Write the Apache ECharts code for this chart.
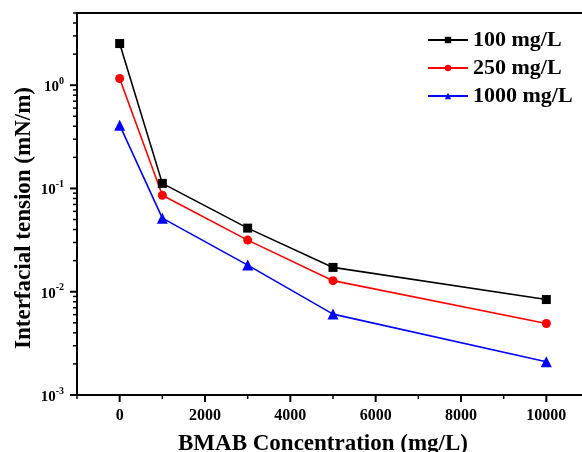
<!DOCTYPE html>
<html><head><meta charset="utf-8">
<script src="https://cdn.jsdelivr.net/npm/echarts@6/dist/echarts.min.js"></script>
<style>html,body{margin:0;padding:0;background:#fff}#c{width:582px;height:452px}</style>
</head><body><div id="c"></div>
<script>
const concentrations = [0, 1000, 3000, 5000, 10000];
const s100 = [2.53, 0.112, 0.0413, 0.0172, 0.0084];
const s250 = [1.16, 0.086, 0.0316, 0.0128, 0.00493];
const s1000 = [0.41, 0.0516, 0.0181, 0.00607, 0.0021];
const seriesNames = ['100 mg/L', '250 mg/L', '1000 mg/L'];
const xMin = -1000, xMax = 11000, yMin = 0.001, yMax = 5;
const xMajorTicks = [0, 2000, 4000, 6000, 8000, 10000];
const xMinorTicks = [-1000, 1000, 3000, 5000, 7000, 9000, 11000];
const yMajorTicks = [0.001, 0.01, 0.1, 1];
const yMinorTicks = [];
[-3, -2, -1, 0].forEach(d => { for (let k = 2; k <= 9; k++) { const v = k * Math.pow(10, d); if (v <= yMax) yMinorTicks.push(+v.toPrecision(3)); } });

const FONT = "'Liberation Serif', 'Times New Roman', serif";
const pair = (ys) => concentrations.map((x, i) => [x, ys[i]]);
const MAJOR = 6, MINOR = 3;
const yTickData = yMajorTicks.map(v => [xMin, v, MAJOR]).concat(yMinorTicks.map(v => [xMin, v, MINOR]));
const xTickData = xMajorTicks.map(v => [v, yMin, MAJOR]).concat(xMinorTicks.map(v => [v, yMin, MINOR]));

const chart = echarts.init(document.getElementById('c'));
const axisLine = { show: true, onZero: false, lineStyle: { color: '#000', width: 2 } };
chart.setOption({
  animation: false,
  backgroundColor: '#fff',
  grid: { left: 77, top: 13, width: 512, height: 382, show: true, borderColor: '#000', borderWidth: 2, containLabel: false, outerBoundsMode: 'none' },
  title: {
    text: 'BMAB Concentration (mg/L)', left: 318, top: 428, textAlign: 'center',
    textStyle: { fontFamily: FONT, fontWeight: 'bold', fontSize: 23, color: '#000' }
  },
  legend: {
    orient: 'vertical', left: 427, top: 29, padding: 0, itemWidth: 40, itemHeight: 8, itemGap: 6,
    textStyle: { fontFamily: FONT, fontWeight: 'bold', fontSize: 22, color: '#000' },
    data: seriesNames
  },
  xAxis: {
    type: 'value', min: xMin, max: xMax,
    axisLine: axisLine,
    splitLine: { show: false },
    axisTick: { show: false },
    axisLabel: { customValues: xMajorTicks, formatter: v => String(v), margin: 13, fontFamily: FONT, fontWeight: 'bold', fontSize: 16, color: '#000' }
  },
  yAxis: {
    type: 'log', logBase: 10, min: yMin, max: yMax, position: 'left',
    name: 'Interfacial tension (mN/m)', nameLocation: 'middle', nameGap: 41, nameMoveOverlap: false,
    nameTextStyle: { fontFamily: FONT, fontWeight: 'bold', fontSize: 23, color: '#000', padding: [0, 28, 0, 0] },
    axisLine: axisLine,
    splitLine: { show: false },
    axisTick: { show: false },
    axisLabel: {
      customValues: yMajorTicks, margin: 13,
      formatter: v => '{b|10}{s|' + Math.round(Math.log10(v)) + '}',
      rich: {
        b: { fontFamily: FONT, fontWeight: 'bold', fontSize: 15, color: '#000', lineHeight: 18, padding: [4, 0, 0, 0] },
        s: { fontFamily: FONT, fontWeight: 'bold', fontSize: 10, color: '#000', verticalAlign: 'top', lineHeight: 18 }
      }
    }
  },
  series: [
    { name: seriesNames[0], type: 'line', data: pair(s100), symbol: 'rect', symbolSize: 9, color: '#000000', lineStyle: { width: 1.6 } },
    { name: seriesNames[1], type: 'line', data: pair(s250), symbol: 'circle', symbolSize: 9, color: '#ff0000', lineStyle: { width: 1.6 } },
    { name: seriesNames[2], type: 'line', data: pair(s1000), symbol: 'triangle', symbolSize: 11, color: '#0000ff', lineStyle: { width: 1.6 } },
    {
      type: 'custom', name: 'yTicks', data: yTickData, clip: false, silent: true, z: 5,
      renderItem: (params, api) => {
        const p = api.coord([api.value(0), api.value(1)]);
        const len = api.value(2);
        return { type: 'line', shape: { x1: p[0] - 1 - len, y1: p[1], x2: p[0], y2: p[1] }, style: { stroke: '#000', lineWidth: len === MAJOR ? 2 : 1.5 } };
      }
    },
    {
      type: 'custom', name: 'xTicks', data: xTickData, clip: false, silent: true, z: 5,
      renderItem: (params, api) => {
        const p = api.coord([api.value(0), api.value(1)]);
        const len = api.value(2);
        return { type: 'line', shape: { x1: p[0], y1: p[1], x2: p[0], y2: p[1] + 1 + len }, style: { stroke: '#000', lineWidth: len === MAJOR ? 2 : 1.5 } };
      }
    }
  ]
});
</script></body></html>
